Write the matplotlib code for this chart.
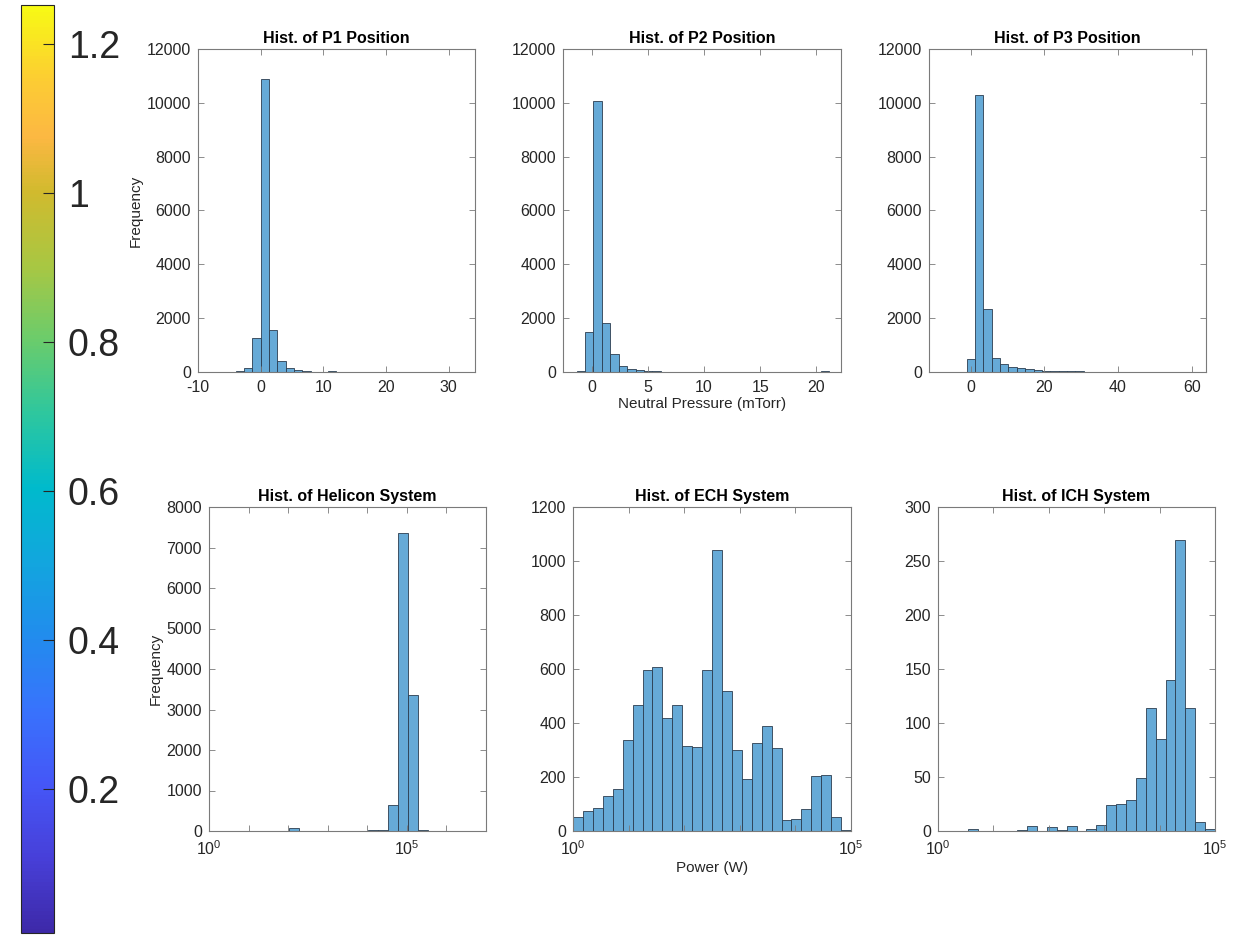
import numpy as np
import matplotlib
matplotlib.use("Agg")
import matplotlib.pyplot as plt
from matplotlib.colors import LinearSegmentedColormap, Normalize
from matplotlib.cm import ScalarMappable

plt.rcParams['font.family'] = ['Liberation Sans', 'DejaVu Sans']
plt.rcParams['mathtext.default'] = 'regular'
plt.rcParams['axes.unicode_minus'] = False

# ---- data ----
p1_edges = np.linspace(-8, 32, 31)
p1_counts = [5, 5, 10, 50, 150, 1250, 10900, 1550, 420, 160, 80, 30, 10, 5, 25,
             5, 3, 3, 2, 2, 2, 1, 1, 1, 1, 1, 1, 1, 1, 1]

p2_edges = np.linspace(-1.35, 21.15, 31)
p2_counts = [50, 1480, 10050, 1820, 660, 230, 110, 60, 50, 40, 15, 10, 8, 6, 5,
             5, 4, 3, 3, 3, 2, 2, 2, 2, 2, 1, 1, 1, 1, 30]

p3_edges = np.linspace(-7.9, 60.2, 31)
p3_counts = [15, 0, 0, 470, 10300, 2330, 510, 300, 180, 150, 100, 60, 50, 40, 40,
             20, 25, 10, 8, 6, 5, 5, 4, 3, 3, 3, 2, 2, 2, 2]

hel_log_edges = 1.03 + 0.25 * np.arange(22)
hel_counts = [8, 0, 0, 0, 70, 5, 0, 0, 0, 0, 5, 5, 15, 20, 650, 7370, 3370,
              20, 5, 4, 3]

ech_log_edges = np.linspace(0, 5, 29)
ech_counts = [52, 74, 84, 131, 156, 337, 466, 597, 607, 419, 466, 315, 311, 597,
              1042, 519, 300, 193, 325, 388, 308, 41, 43, 82, 204, 208, 53, 4]

ich_log_edges = np.linspace(0, 5, 29)
ich_counts = [0, 0, 0, 2, 0, 0, 0, 0, 1, 5, 0, 4, 1, 5, 0, 2, 6, 24, 25, 29,
              49, 114, 85, 140, 269, 114, 8, 2]

# old-style parula, sampled from the colorbar
parula_pts = [(0.00, (0.24, 0.16, 0.66)), (0.08, (0.28, 0.25, 0.85)),
              (0.16, (0.27, 0.34, 0.97)), (0.24, (0.22, 0.45, 0.99)),
              (0.32, (0.13, 0.55, 0.93)), (0.40, (0.07, 0.65, 0.87)),
              (0.48, (0.00, 0.73, 0.80)), (0.56, (0.18, 0.78, 0.62)),
              (0.64, (0.42, 0.80, 0.42)), (0.72, (0.66, 0.78, 0.26)),
              (0.80, (0.82, 0.73, 0.18)), (0.86, (0.99, 0.72, 0.26)),
              (0.92, (0.99, 0.80, 0.20)), (1.00, (0.97, 0.98, 0.08))]
cbar_ticks = [0.2, 0.4, 0.6, 0.8, 1, 1.2]

W, H = 1241, 936
fig = plt.figure(figsize=(W / 100, H / 100), dpi=100)

face = (0.40, 0.668, 0.845)
edge = (0.17, 0.24, 0.31)
axcol = '#262626'


def px_axes(x0, y0, x1, y1):
    return fig.add_axes([x0 / W, 1 - y1 / H, (x1 - x0) / W, (y1 - y0) / H])


def style(ax):
    for s in ax.spines.values():
        s.set_color('#7a7a7a')
        s.set_linewidth(0.8)
    ax.tick_params(direction='in', top=True, right=True, length=4, width=0.6,
                   colors='#7a7a7a', labelcolor=axcol, labelsize=11.5)
    ax.tick_params(axis='x', pad=6)
    ax.tick_params(axis='y', pad=5)
    ax.tick_params(which='minor', top=False, bottom=False, left=False, right=False)


def draw_hist(ax, edges, counts):
    edges = np.asarray(edges)
    ax.bar(edges[:-1], counts, width=np.diff(edges), align='edge',
           color=face, edgecolor=edge, linewidth=0.6)


# top row: linear histograms
top = [
    ((198, 49, 475, 372), p1_edges, p1_counts, 'Hist. of P1 Position',
     (-10, 34.2), [-10, 0, 10, 20, 30]),
    ((563, 49, 841, 372), p2_edges, p2_counts, 'Hist. of P2 Position',
     (-2.56, 22.2), [0, 5, 10, 15, 20]),
    ((929, 49, 1206, 372), p3_edges, p3_counts, 'Hist. of P3 Position',
     (-11.3, 63.9), [0, 20, 40, 60]),
]
axes_top = []
for box, ed, cn, title, xl, xt in top:
    ax = px_axes(*box)
    draw_hist(ax, ed, cn)
    ax.set_xlim(*xl)
    ax.set_xticks(xt)
    ax.set_ylim(0, 12000)
    ax.set_yticks(np.arange(0, 12001, 2000))
    ax.set_title(title, fontsize=11.5, fontweight='bold', pad=4)
    style(ax)
    axes_top.append(ax)

axes_top[0].set_ylabel('Frequency', fontsize=11, color=axcol, labelpad=3)
axes_top[1].set_xlabel('Neutral Pressure (mTorr)', fontsize=11, color=axcol, labelpad=1)

# bottom row: log-x histograms
bottom = [
    ((209, 507, 486, 831), hel_log_edges, hel_counts, 'Hist. of Helicon System',
     7, 8000, 1000),
    ((573, 507, 851, 831), ech_log_edges, ech_counts, 'Hist. of ECH System',
     5, 1200, 200),
    ((938, 507, 1215, 831), ich_log_edges, ich_counts, 'Hist. of ICH System',
     5, 300, 50),
]
axes_bot = []
for box, led, cn, title, dmax, ymax, ystep in bottom:
    ax = px_axes(*box)
    ax.set_xscale('log')
    draw_hist(ax, 10.0 ** np.asarray(led), cn)
    ax.set_xlim(1, 10.0 ** dmax)
    dec = 10.0 ** np.arange(0, dmax + 1)
    ax.set_xticks(dec)
    ax.set_xticklabels([r'10$^{%d}$' % k if k in (0, 5) else ''
                        for k in range(dmax + 1)])
    ax.set_ylim(0, ymax)
    ax.set_yticks(np.arange(0, ymax + 1, ystep))
    ax.set_title(title, fontsize=11.5, fontweight='bold', pad=4)
    style(ax)
    axes_bot.append(ax)

axes_bot[0].set_ylabel('Frequency', fontsize=11, color=axcol, labelpad=3)
axes_bot[1].set_xlabel('Power (W)', fontsize=11, color=axcol, labelpad=2)

# colorbar on the left
parula = LinearSegmentedColormap.from_list('parula_old', parula_pts)
cax = px_axes(21, 5, 54, 933)
sm = ScalarMappable(norm=Normalize(0.007, 1.253), cmap=parula)
cb = fig.colorbar(sm, cax=cax)
cb.set_ticks(cbar_ticks)
cb.set_ticklabels(['0.2', '0.4', '0.6', '0.8', '1', '1.2'])
cb.outline.set_edgecolor('#262626')
cb.outline.set_linewidth(0.8)
cax.tick_params(direction='in', length=8, width=0.8, colors='#262626',
                labelcolor=axcol, labelsize=27, pad=10)
cax.minorticks_off()

fig.savefig('out.png', dpi=100)
